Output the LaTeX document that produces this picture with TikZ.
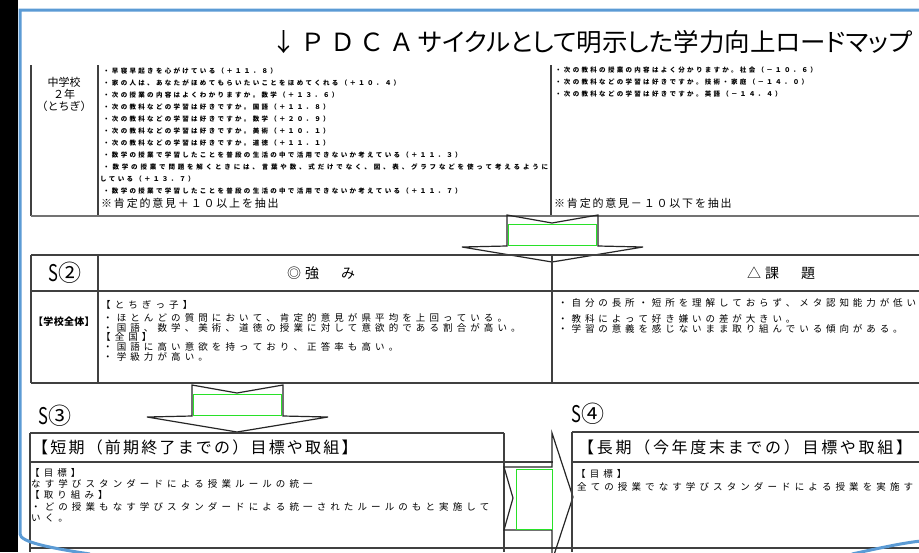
\documentclass[tikz,border=0pt]{standalone}
\usepackage{fontspec}
\usepackage{graphicx}
\setmainfont{Noto Sans CJK JP}
\newfontfamily\jpp[RawFeature=+palt]{Noto Sans CJK JP}
\definecolor{frameblue}{RGB}{91,155,213}
\definecolor{tgreen}{RGB}{40,225,40}
\ExplSyntaxOn
\NewDocumentCommand\jtxt{m m}{\tl_map_inline:nn {#2} {\hbox_to_wd:nn {#1} {##1\hss}}}
\NewDocumentCommand\jspread{m m}{\hbox_to_wd:nn {#1} {\tl_map_inline:nn {#2} {##1\hfil}\unskip}}
\ExplSyntaxOff
\begin{document}
\begin{tikzpicture}[x=1pt,y=-1pt,
  tl/.style={draw=black!75,line width=1.1pt},
  tlh/.style={draw=black!55,line width=2pt},
  arr/.style={draw=black!85,line width=1.2pt,line join=miter},
  grn/.style={draw=tgreen,line width=0.9pt},
  fr/.style={draw=frameblue,line width=3pt},
  lbl/.style={inner sep=0pt,anchor=base west},
  ctr/.style={inner sep=0pt,anchor=base},
  fa/.style={font=\bfseries\fontsize{6.5}{7}\selectfont},
  fb/.style={font=\fontsize{9.5}{10}\selectfont},
  fn/.style={font=\fontsize{11}{12}\selectfont},
  fh/.style={font=\fontsize{16}{17}\selectfont},
  fs/.style={font=\fontsize{23}{24}\selectfont}]
\useasboundingbox (0,0) rectangle (919,552);
\clip (0,0) rectangle (919,552);
\fill[white] (0,0) rectangle (919,552);
\fill[black] (0,0) rectangle (18,552);

% title
\node[lbl,font=\fontsize{25}{26}\selectfont] (ttlA) at (271,51.5) {\jtxt{29.5pt}{↓ＰＤＣＡ}};
\node[lbl,font=\jpp\fontsize{25}{26}\selectfont] (ttlB) at (418,51.5) {\resizebox{494pt}{\height}{サイクルとして明示した学力向上ロードマップ}};

% top section lines
\draw[tl] (31,65) -- (31,216);
\draw[tl] (98,65) -- (98,216);
\draw[tl] (551,65) -- (551,216);
\draw[tlh] (31,216) -- (919,216);

% top section texts
\node[ctr,fn] (c1) at (64,86.2) {中学校};
\node[ctr,fn] (c2) at (64,98.2) {２年};
\node[ctr,fn] (c3) at (64,110.2) {（とちぎ）};

\node[lbl,fa] (a1) at (103,73.5) {\jtxt{8.8pt}{・早寝早起きを心がけている（＋１１．８）}};
\node[lbl,fa] (a2) at (103,85.5) {\jtxt{8.8pt}{・家の人は、あなたがほめてもらいたいことをほめてくれる（＋１０．４）}};
\node[lbl,fa] (a3) at (103,97.5) {\jtxt{8.8pt}{・次の授業の内容はよくわかりますか。数学（＋１３．６）}};
\node[lbl,fa] (a4) at (103,109.5) {\jtxt{8.8pt}{・次の教科などの学習は好きですか。国語（＋１１．８）}};
\node[lbl,fa] (a5) at (103,121.5) {\jtxt{8.8pt}{・次の教科などの学習は好きですか。数学（＋２０．９）}};
\node[lbl,fa] (a6) at (103,133.5) {\jtxt{8.8pt}{・次の教科などの学習は好きですか。美術（＋１０．１）}};
\node[lbl,fa] (a7) at (103,145.5) {\jtxt{8.8pt}{・次の教科などの学習は好きですか。道徳（＋１１．１）}};
\node[lbl,fa] (a8) at (103,157.5) {\jtxt{8.8pt}{・数学の授業で学習したことを普段の生活の中で活用できないか考えている（＋１１．３）}};
\node[lbl,fa] (a9) at (103,169.5) {\jspread{445pt}{・数学の授業で問題を解くときには、言葉や数、式だけでなく、図、表、グラフなどを使って考えるように}};
\node[lbl,fa] (a10) at (100,181.5) {\jtxt{8.8pt}{している（＋１３．７）}};
\node[lbl,fa] (a11) at (103,193.5) {\jtxt{8.8pt}{・数学の授業で学習したことを普段の生活の中で活用できないか考えている（＋１１．７）}};
\node[lbl,fn] (a12) at (101,207.2) {\jtxt{12.8pt}{※肯定的意見＋１０以上を抽出}};

\node[lbl,fa] (b1) at (555,72.5) {\jtxt{8.8pt}{・次の教科の授業の内容はよく分かりますか。社会（－１０．６）}};
\node[lbl,fa] (b2) at (555,84.5) {\jtxt{8.8pt}{・次の教科などの学習は好きですか。技術・家庭（－１４．０）}};
\node[lbl,fa] (b3) at (555,96.5) {\jtxt{8.8pt}{・次の教科などの学習は好きですか。英語（－１４．４）}};
\node[lbl,fn] (b4) at (554,207.2) {\jtxt{12.8pt}{※肯定的意見－１０以下を抽出}};

% arrow 1
\draw[arr] (507,215) -- (552,223) -- (598,215) -- (598,246) -- (643,247) -- (552,262) -- (462,247) -- (507,246) -- cycle;
\draw[grn] (508.5,224) rectangle (596.5,245);

% S2 table
\draw[tl] (31,255) -- (919,255);
\draw[tl] (31,291) -- (919,291);
\draw[tl] (31,383) -- (919,383);
\draw[tl] (31,255) -- (31,383);
\draw[tl] (98,255) -- (98,383);
\draw[tl] (552,255) -- (552,383);

\node[ctr,fs] (s2) at (65,281.5) {\scalebox{0.72}[1]{S}②};
\node[lbl,font=\fontsize{14}{15}\selectfont] (stH) at (287,278.3) {\jtxt{18pt}{◎強　み}};
\node[lbl,font=\fontsize{14}{15}\selectfont] (chH) at (747,278.3) {\jtxt{18pt}{△課　題}};
\node[lbl,font=\bfseries\fontsize{10}{11}\selectfont] (gk) at (33,325.8) {\jtxt{10.3pt}{【学校全体】}};

\node[lbl,fb] (st1) at (101,308.6) {\jtxt{13.6pt}{【とちぎっ子】}};
\node[lbl,fb] (st2) at (103,321.6) {\jtxt{13.6pt}{・ほとんどの質問において、肯定的意見が県平均を上回っている。}};
\node[lbl,fb] (st3) at (103,331.6) {\jtxt{13.6pt}{・国語、数学、美術、道徳の授業に対して意欲的である割合が高い。}};
\node[lbl,fb] (st4) at (101,340.6) {\jtxt{13.6pt}{【全国】}};
\node[lbl,fb] (st5) at (103,350.6) {\jtxt{13.6pt}{・国語に高い意欲を持っており、正答率も高い。}};
\node[lbl,fb] (st6) at (103,360.6) {\jtxt{13.6pt}{・学級力が高い。}};

\node[lbl,fb] (ch1) at (558,306.6) {\jtxt{13.4pt}{・自分の長所・短所を理解しておらず、メタ認知能力が低い}};
\node[lbl,fb] (ch2) at (558,322.6) {\jtxt{13.4pt}{・教科によって好き嫌いの差が大きい。}};
\node[lbl,fb] (ch3) at (558,332.6) {\jtxt{13.4pt}{・学習の意義を感じないまま取り組んでいる傾向がある。}};

% arrow 2
\draw[arr] (192,385) -- (237,393) -- (283,385) -- (283,416) -- (328,417) -- (237,432) -- (147,417) -- (192,416) -- cycle;
\draw[grn] (193.5,394) rectangle (281.5,415);

% S3
\node[ctr,fs] (s3) at (55,424.5) {\scalebox{0.72}[1]{S}③};
\draw[tl] (30,433) -- (504,433);
\draw[tl] (30,433) -- (30,552);
\draw[tl] (504,433) -- (504,552);
\draw[tl] (30,462) -- (553,462);
\draw[tl] (30,548) -- (919,548);
\node[lbl,fh] (s3h) at (32,453.1) {\jtxt{18.2pt}{【短期（前期終了までの）目標や取組】}};
\node[lbl,fb] (s3a) at (30,476.6) {\jtxt{13.6pt}{【目標】}};
\node[lbl,fb] (s3b) at (31,487.6) {\jtxt{13.6pt}{なす学びスタンダードによる授業ルールの統一}};
\node[lbl,fb] (s3c) at (30,498.6) {\jtxt{13.6pt}{【取り組み】}};
\node[lbl,fb] (s3d) at (31,510.6) {\jtxt{13.6pt}{・どの授業もなす学びスタンダードによる統一されたルールのもと実施して}};
\node[lbl,fb] (s3e) at (31,521.6) {\jtxt{13.6pt}{いく。}};

% arrow 3
\draw[arr] (504,467) -- (552,467) -- (552,433) -- (573,497) -- (552,561) -- (552,530) -- (504,530) -- (513,498) -- cycle;
\draw[grn] (516,469) rectangle (552,529);

% S4
\node[ctr,fs] (s4) at (588,422.5) {\scalebox{0.72}[1]{S}④};
\draw[tl] (572,432) -- (919,432);
\draw[tl] (572,462) -- (919,462);
\draw[tl] (572,432) -- (572,552);
\node[lbl,fh] (s4h) at (578,453.1) {\jtxt{18.7pt}{【長期（今年度末までの）目標や取組】}};
\node[lbl,fb] (s4a) at (576,477.6) {\jtxt{13.6pt}{【目標】}};
\node[lbl,fb] (s4b) at (577,490.6) {\jtxt{13.6pt}{全ての授業でなす学びスタンダードによる授業を実施す}};

% blue frame
\draw[fr] (920,10) -- (20,10) -- (20,534) .. controls (20,542) and (50,548) .. (90,554);
\draw[fr] (852,554) .. controls (880,548) and (902,543) .. (921,541);
\end{tikzpicture}
\end{document}
